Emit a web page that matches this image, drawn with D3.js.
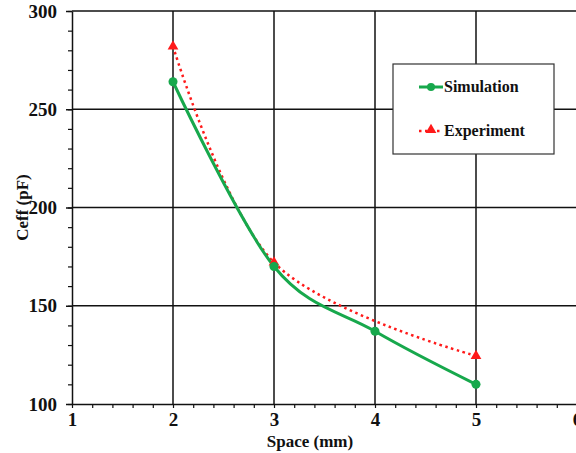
<!DOCTYPE html>
<html>
<head>
<meta charset="utf-8">
<script src="https://cdn.jsdelivr.net/npm/d3@7"></script>
<style>
body { margin: 0; background: #fff; }
svg text { font-family: "Times New Roman", "Liberation Serif", "DejaVu Serif", serif; font-weight: bold; fill: #111; }
</style>
</head>
<body>
<div id="chart"></div>
<script>
// data
var spaceSim = [2, 3, 4, 5];
var ceffSim = [264, 170, 137, 110];
var spaceExp = [2, 3, 5];
var ceffExp = [282, 172, 124.5];
var xTicks = [1, 2, 3, 4, 5, 6];
var yTicks = [100, 150, 200, 250, 300];

var width = 576, height = 453;
var plotL = 72, plotR = 577, plotT = 11, plotB = 404;
var serif = "'Times New Roman', 'Liberation Serif', 'DejaVu Serif', serif";

var svg = d3.select("#chart").append("svg")
	.attr("width", width)
	.attr("height", height);

var x = d3.scaleLinear().domain([1, 6]).range([plotL, plotR]);
var y = d3.scaleLinear().domain([100, 300]).range([plotB, plotT]);

// grid
svg.append("g").selectAll("line")
	.data(xTicks.slice(1))
	.enter().append("line")
	.attr("x1", function(d) { return x(d); })
	.attr("x2", function(d) { return x(d); })
	.attr("y1", plotT).attr("y2", plotB)
	.attr("stroke", "#111").attr("stroke-width", 1.5);

svg.append("g").selectAll("line")
	.data(yTicks.slice(1))
	.enter().append("line")
	.attr("x1", plotL).attr("x2", plotR)
	.attr("y1", function(d) { return y(d); })
	.attr("y2", function(d) { return y(d); })
	.attr("stroke", "#111").attr("stroke-width", 1.5);

// minor ticks
var yMinor = d3.range(100, 301, 10);
var xMinor = d3.range(1, 6.01, 0.2);

var yAxis = svg.append("g")
	.attr("transform", "translate(" + plotL + ",0)")
	.call(d3.axisLeft(y).tickValues(yMinor).tickSize(4).tickSizeOuter(0).tickFormat(""));
yAxis.select(".domain").attr("stroke", "#111").attr("stroke-width", 1.5);
yAxis.selectAll(".tick line").attr("stroke", "#111").attr("stroke-width", 1.2);

var yMajor = svg.append("g")
	.attr("transform", "translate(" + plotL + ",0)")
	.call(d3.axisLeft(y).tickValues(yTicks).tickSize(6).tickPadding(9));
yMajor.select(".domain").remove();
yMajor.attr("font-family", serif).attr("font-size", 19);
yMajor.selectAll(".tick line").attr("stroke", "#111").attr("stroke-width", 1.5);
yMajor.selectAll(".tick text").attr("fill", "#111");

var xAxis = svg.append("g")
	.attr("transform", "translate(0," + plotB + ")")
	.call(d3.axisBottom(x).tickValues(xMinor).tickSize(4).tickSizeOuter(0).tickFormat(""));
xAxis.select(".domain").attr("stroke", "#111").attr("stroke-width", 1.5);
xAxis.selectAll(".tick line").attr("stroke", "#111").attr("stroke-width", 1.2);

var xMajor = svg.append("g")
	.attr("transform", "translate(0," + plotB + ")")
	.call(d3.axisBottom(x).tickValues(xTicks).tickSize(0).tickPadding(9).tickFormat(d3.format("d")));
xMajor.select(".domain").remove();
xMajor.attr("font-family", serif).attr("font-size", 19);
xMajor.selectAll(".tick text").attr("fill", "#111");

// axis titles
svg.append("text")
	.attr("x", 310)
	.attr("y", 447)
	.attr("text-anchor", "middle")
	.attr("font-size", 17)
	.text("Space (mm)");

svg.append("text")
	.attr("transform", "translate(28," + ((plotT + plotB) / 2) + ") rotate(-90)")
	.attr("text-anchor", "middle")
	.attr("font-size", 17)
	.text("Ceff (pF)");

// curves
var simData = spaceSim.map(function(d, i) { return [d, ceffSim[i]]; });
var expData = spaceExp.map(function(d, i) { return [d, ceffExp[i]]; });

var line = d3.line()
	.curve(d3.curveCardinal.tension(0))
	.x(function(d) { return x(d[0]); })
	.y(function(d) { return y(d[1]); });

var green = "#17a84c", red = "#ff1a1a";

svg.append("path")
	.datum(expData)
	.attr("fill", "none")
	.attr("stroke", red)
	.attr("stroke-width", 2.5)
	.attr("stroke-dasharray", "2.5,3.5")
	.attr("d", line);

svg.append("path")
	.datum(simData)
	.attr("fill", "none")
	.attr("stroke", green)
	.attr("stroke-width", 3)
	.attr("d", line);

var tri = d3.symbol().type(d3.symbolTriangle).size(50);

svg.selectAll(".expPt")
	.data(expData)
	.enter().append("path")
	.attr("class", "expPt")
	.attr("transform", function(d) { return "translate(" + x(d[0]) + "," + y(d[1]) + ")"; })
	.attr("d", tri)
	.attr("fill", red);

svg.selectAll(".simPt")
	.data(simData)
	.enter().append("circle")
	.attr("class", "simPt")
	.attr("cx", function(d) { return x(d[0]); })
	.attr("cy", function(d) { return y(d[1]); })
	.attr("r", 4.5)
	.attr("fill", green);

// legend
var lg = svg.append("g").attr("transform", "translate(393,64)");
lg.append("rect")
	.attr("width", 161).attr("height", 90)
	.attr("fill", "#fff")
	.attr("stroke", "#333").attr("stroke-width", 1.2);

var sim = lg.append("g").attr("transform", "translate(0,23)");
sim.append("line").attr("x1", 26).attr("x2", 50).attr("stroke", green).attr("stroke-width", 3);
sim.append("circle").attr("cx", 38).attr("r", 4).attr("fill", green);
sim.append("text").attr("x", 51).attr("y", 5).attr("font-size", 16).text("Simulation");

var exp = lg.append("g").attr("transform", "translate(0,67)");
exp.append("line").attr("x1", 26).attr("x2", 50).attr("stroke", red).attr("stroke-width", 2.5).attr("stroke-dasharray", "2.5,3.5");
exp.append("path").attr("transform", "translate(38,-1)").attr("d", tri).attr("fill", red);
exp.append("text").attr("x", 51).attr("y", 5).attr("font-size", 16).text("Experiment");
</script>
</body>
</html>
